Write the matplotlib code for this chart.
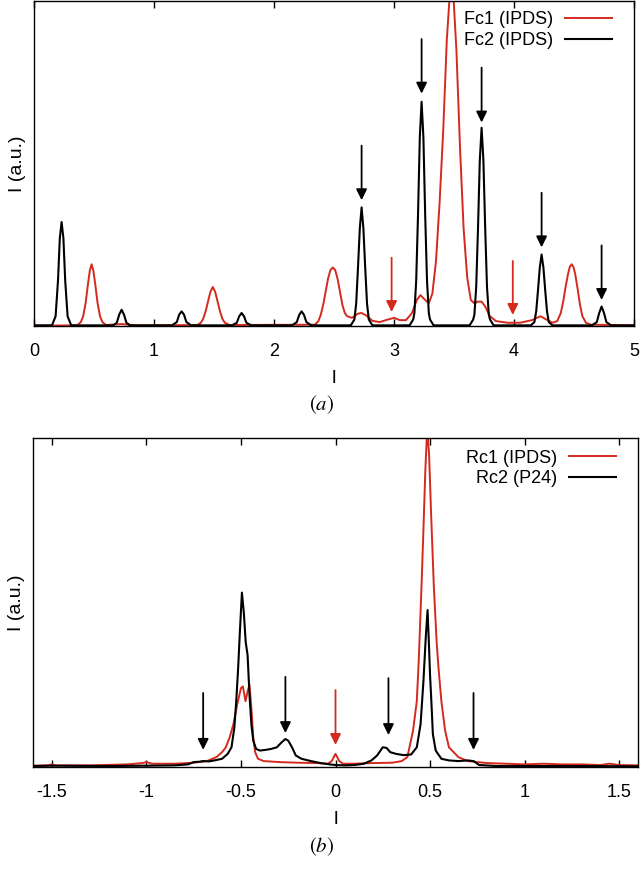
import matplotlib.pyplot as plt

plt.rcParams['font.family'] = ['Liberation Sans', 'DejaVu Sans']
plt.rcParams['mathtext.fontset'] = 'stix'

# panel (a): Fc1 (IPDS), red
fc1_l = [0.00, 0.36, 0.39, 0.41, 0.43, 0.45, 0.465, 0.48, 0.495, 0.51, 0.53, 0.55, 0.57,
         0.60, 0.73, 0.85,
         1.36, 1.39, 1.41, 1.43, 1.45, 1.47, 1.49, 1.51, 1.53, 1.55, 1.57, 1.59, 1.63,
         2.34, 2.37, 2.39, 2.41, 2.43, 2.45, 2.47, 2.49, 2.51, 2.53, 2.55, 2.57, 2.59,
         2.61, 2.65, 2.70, 2.73, 2.77, 2.82, 2.88,
         2.95, 3.00, 3.05, 3.10, 3.15, 3.19, 3.22, 3.26, 3.29, 3.32, 3.35, 3.38, 3.41, 3.44,
         3.47, 3.48, 3.49, 3.52, 3.55, 3.58, 3.61, 3.64, 3.67, 3.70, 3.73, 3.76, 3.80, 3.85,
         3.95, 4.05, 4.15, 4.22, 4.27, 4.32, 4.36, 4.39, 4.41, 4.43, 4.45, 4.465, 4.48,
         4.495, 4.51, 4.53, 4.55, 4.57, 4.60, 4.64, 5.00]
fc1_i = [0.001, 0.002, 0.012, 0.03, 0.07, 0.13, 0.17, 0.19, 0.17, 0.13, 0.07, 0.03, 0.012,
         0.003, 0.006, 0.002,
         0.003, 0.01, 0.022, 0.045, 0.075, 0.105, 0.12, 0.105, 0.075, 0.045, 0.022, 0.01, 0.003,
         0.004, 0.015, 0.035, 0.065, 0.105, 0.145, 0.172, 0.18, 0.172, 0.145, 0.105, 0.065, 0.04,
         0.03, 0.025, 0.038, 0.04, 0.032, 0.016, 0.012,
         0.02, 0.025, 0.018, 0.018, 0.04, 0.08, 0.095, 0.08, 0.07, 0.10, 0.20, 0.38, 0.60, 0.88,
         1.05, 1.08, 1.05, 0.85, 0.55, 0.30, 0.15, 0.08, 0.07, 0.075, 0.075, 0.06, 0.03, 0.015,
         0.01, 0.01, 0.018, 0.03, 0.02, 0.01, 0.015, 0.04, 0.075, 0.12, 0.16, 0.182, 0.19,
         0.182, 0.16, 0.115, 0.065, 0.03, 0.01, 0.004, 0.002]

# panel (a): Fc2 (IPDS), black
fc2_l = [0.00, 0.15, 0.18, 0.20, 0.215, 0.23, 0.245, 0.26, 0.28, 0.31,
         0.66, 0.69, 0.71, 0.73, 0.75, 0.77, 0.80,
         1.15, 1.19, 1.21, 1.23, 1.25, 1.27, 1.31,
         1.65, 1.69, 1.71, 1.73, 1.75, 1.77, 1.81,
         2.15, 2.19, 2.21, 2.23, 2.25, 2.27, 2.31,
         2.64, 2.67, 2.685, 2.70, 2.715, 2.73, 2.745, 2.76, 2.775, 2.79, 2.82,
         3.13, 3.16, 3.17, 3.185, 3.20, 3.215, 3.23, 3.245, 3.26, 3.275, 3.29, 3.30, 3.33,
         3.63, 3.66, 3.67, 3.685, 3.70, 3.715, 3.73, 3.745, 3.76, 3.775, 3.79, 3.80, 3.83,
         4.14, 4.17, 4.185, 4.20, 4.215, 4.23, 4.245, 4.26, 4.275, 4.29, 4.32,
         4.65, 4.69, 4.71, 4.73, 4.75, 4.77, 4.81, 5.00]
fc2_i = [0.002, 0.002, 0.03, 0.14, 0.27, 0.32, 0.27, 0.14, 0.03, 0.002,
         0.002, 0.01, 0.035, 0.05, 0.035, 0.01, 0.002,
         0.002, 0.012, 0.035, 0.045, 0.035, 0.012, 0.002,
         0.002, 0.01, 0.03, 0.04, 0.03, 0.01, 0.002,
         0.002, 0.012, 0.034, 0.045, 0.034, 0.012, 0.002,
         0.002, 0.02, 0.07, 0.18, 0.30, 0.365, 0.30, 0.18, 0.07, 0.02, 0.002,
         0.002, 0.02, 0.04, 0.14, 0.34, 0.58, 0.69, 0.58, 0.34, 0.14, 0.04, 0.02, 0.002,
         0.002, 0.02, 0.035, 0.12, 0.30, 0.51, 0.61, 0.51, 0.30, 0.12, 0.035, 0.02, 0.002,
         0.002, 0.012, 0.045, 0.11, 0.18, 0.22, 0.18, 0.11, 0.045, 0.012, 0.002,
         0.002, 0.012, 0.04, 0.06, 0.04, 0.012, 0.002, 0.002]

# panel (b): Rc1 (IPDS), red
rc1_l = [-1.60, -1.52, -1.50, -1.48, -1.30, -1.10, -1.02, -1.00, -0.97, -0.85, -0.75,
         -0.68, -0.63, -0.60, -0.58, -0.56, -0.54, -0.52, -0.50, -0.49, -0.476, -0.465,
         -0.455, -0.445, -0.435, -0.425, -0.41, -0.38, -0.30, -0.20, -0.10, -0.04, -0.02,
         0.00, 0.02, 0.04, 0.10, 0.20, 0.30, 0.35, 0.38, 0.41, 0.43, 0.44, 0.455, 0.465,
         0.475, 0.485, 0.495, 0.505, 0.52, 0.535, 0.545, 0.56, 0.58, 0.60, 0.65, 0.70,
         0.80, 0.90, 1.00, 1.10, 1.20, 1.30, 1.40, 1.45, 1.50, 1.60]
rc1_i = [0.004, 0.005, 0.008, 0.005, 0.005, 0.008, 0.012, 0.015, 0.01, 0.01, 0.013,
         0.018, 0.03, 0.045, 0.06, 0.09, 0.13, 0.19, 0.24, 0.245, 0.20, 0.23,
         0.25, 0.18, 0.09, 0.045, 0.025, 0.018, 0.015, 0.013, 0.012, 0.01, 0.018,
         0.04, 0.018, 0.01, 0.01, 0.012, 0.013, 0.018, 0.03, 0.11, 0.20, 0.32, 0.55, 0.72,
         0.90, 1.03, 0.95, 0.78, 0.55, 0.38, 0.30, 0.20, 0.11, 0.06, 0.03, 0.018,
         0.012, 0.01, 0.008, 0.01, 0.008, 0.008, 0.006, 0.01, 0.006, 0.005]

# panel (b): Rc2 (P24), black
rc2_l = [-1.60, -1.50, -1.20, -1.00, -0.85, -0.78, -0.75, -0.72, -0.70, -0.67, -0.64,
         -0.60, -0.57, -0.55, -0.535, -0.525, -0.515, -0.505, -0.495, -0.485, -0.475,
         -0.465, -0.455, -0.445, -0.435, -0.42, -0.40, -0.37, -0.34, -0.31, -0.285,
         -0.265, -0.25, -0.23, -0.21, -0.18, -0.13, -0.08, -0.03, 0.00, 0.05, 0.10, 0.15,
         0.19, 0.22, 0.25, 0.27, 0.29, 0.32, 0.36, 0.40, 0.43, 0.45, 0.465, 0.478, 0.487,
         0.495, 0.50, 0.507, 0.515, 0.53, 0.56, 0.60, 0.65, 0.70, 0.73, 0.76, 0.85, 1.00,
         1.30, 1.60]
rc2_i = [0.003, 0.004, 0.003, 0.004, 0.005, 0.008, 0.015, 0.016, 0.018, 0.017, 0.02,
         0.025, 0.04, 0.06, 0.12, 0.20, 0.30, 0.42, 0.53, 0.47, 0.38,
         0.34, 0.22, 0.13, 0.08, 0.055, 0.05, 0.052, 0.055, 0.06, 0.075,
         0.085, 0.08, 0.06, 0.035, 0.025, 0.018, 0.012, 0.008, 0.006, 0.005, 0.006, 0.01,
         0.02, 0.035, 0.06, 0.058, 0.045, 0.04, 0.036, 0.038, 0.06, 0.13, 0.26, 0.40, 0.477,
         0.36, 0.28, 0.20, 0.10, 0.05, 0.025, 0.02, 0.018, 0.02, 0.018, 0.006, 0.003, 0.003,
         0.003, 0.002]

# arrows: position, tail height, tip height
arrows_a_black = [(2.73, 0.555, 0.387), (3.23, 0.883, 0.715), (3.73, 0.795, 0.626),
                  (4.23, 0.41, 0.242), (4.73, 0.248, 0.08)]
arrows_a_red = [(2.98, 0.21, 0.043), (3.99, 0.2, 0.034)]
arrows_b_black = [(-0.70, 0.225, 0.052), (-0.265, 0.274, 0.103),
                  (0.28, 0.27, 0.097), (0.73, 0.225, 0.052)]
arrows_b_red = [(0.0, 0.234, 0.067)]

RED = '#d42a1e'
FS = 13


def draw_arrows(ax, arrows, color):
    for x, y0, y1 in arrows:
        ax.annotate('', xy=(x, y1), xytext=(x, y0),
                    arrowprops=dict(arrowstyle='-|>,head_length=0.65,head_width=0.32',
                                    color=color, lw=1.3, mutation_scale=10,
                                    shrinkA=0, shrinkB=0))


def style_axes(ax):
    ax.set_yticks([])
    ax.tick_params(axis='x', direction='in', top=True, length=5, width=1,
                   labelsize=FS, pad=12.5)
    for s in ax.spines.values():
        s.set_linewidth(1.0)
    ax.set_ylim(0, 1)
    ax.set_ylabel('I (a.u.)', fontsize=14, labelpad=6)
    ax.set_xlabel('l', fontsize=14, labelpad=7)


def add_legend(ax, lift):
    ax.legend(loc='upper right', bbox_to_anchor=(1, 1 + lift), markerfirst=False,
              frameon=False, fontsize=FS, handlelength=2.6, handletextpad=0.7,
              labelspacing=0.2, borderaxespad=0.9, borderpad=0.3)


fig = plt.figure(figsize=(6.4, 8.81), dpi=100)
ax1 = fig.add_axes([34 / 640, 1 - 326 / 881, 600 / 640, 325 / 881])
ax2 = fig.add_axes([33 / 640, 1 - 767 / 881, 605 / 640, 329 / 881])

ax1.plot(fc1_l, fc1_i, color=RED, lw=1.4, label='Fc1 (IPDS)')
ax1.plot(fc2_l, fc2_i, color='black', lw=1.5, label='Fc2 (IPDS)')
draw_arrows(ax1, arrows_a_black, 'black')
draw_arrows(ax1, arrows_a_red, RED)
ax1.set_xlim(0, 5)
ax1.set_xticks([0, 1, 2, 3, 4, 5])
style_axes(ax1)
add_legend(ax1, 0.035)

ax2.plot(rc1_l, rc1_i, color=RED, lw=1.4, label='Rc1 (IPDS)')
ax2.plot(rc2_l, rc2_i, color='black', lw=1.5, label='Rc2 (P24)')
draw_arrows(ax2, arrows_b_black, 'black')
draw_arrows(ax2, arrows_b_red, RED)
ax2.set_xlim(-1.6, 1.6)
ax2.set_xticks([-1.5, -1, -0.5, 0, 0.5, 1, 1.5])
ax2.set_xticklabels(['-1.5', '-1', '-0.5', '0', '0.5', '1', '1.5'])
style_axes(ax2)
add_legend(ax2, 0.03)

fig.text(322 / 640, 1 - 405 / 881, r'$(a)$', ha='center', va='center', fontsize=15)
fig.text(322 / 640, 1 - 847 / 881, r'$(b)$', ha='center', va='center', fontsize=15)

fig.savefig('out.png', dpi=100)
